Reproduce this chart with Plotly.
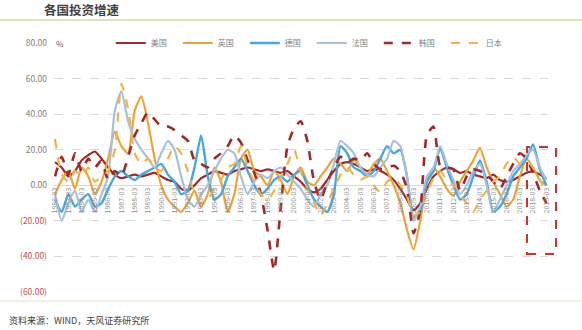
import pandas as pd
import plotly.graph_objects as go

# semiannual observation dates (1982-03 ... 2019-03)
dates = pd.date_range("1982-03-01", periods=75, freq="6MS")

series_names = ["美国", "英国", "德国", "法国", "韩国", "日本"]

us = [13, 10, 5, 8, 14, 17, 19, 15, 10, 6, 4, 5, 6, 5, 6, 7, 5, 3, 2, -2,
      -3, 0, 4, 6, 8, 7, 6, 8, 9, 10, 9, 8, 9, 8, 7, 8, 5, 2, -2, -4,
      -2, 3, 8, 12, 13, 12, 10, 8, 9, 8, 6, 3, -2, -8, -14, -10, -2, 5, 8, 10,
      9, 7, 8, 6, 5, 4, 6, 3, 2, 3, 5, 7, 8, 6, 4]
uk = [-5, 3, 8, -2, 10, 5, -5, 2, 15, 30, 22, 18, 42, 50, 35, 15, 0, -8, -12, -15,
      -10, -3, -12, -5, 10, 2, -15, -5, 15, 20, 8, 5, 0, 8, 3, -5, 5, 10, 2, 0,
      5, 10, 15, 12, 8, 14, 10, 6, 12, 15, 8, 0, -10, -25, -36, -20, 2, 10, 5, -2,
      -6, 2, 8, 14, 21, 10, 2, -5, -12, -8, 5, 15, 10, 3, 0]
de = [-8, -15, -5, -12, -8, -5, -12, -10, -2, 5, 8, 5, 3, 6, 8, 10, 12, 6, 2, -5,
      -3, 10, 28, 5, -8, -5, 5, 10, 15, 8, 0, -5, -2, 3, 5, 2, 6, 8, 0, -8,
      -12, -15, -5, 22, 18, 10, 8, 5, 8, 15, 22, 18, 20, 5, -18, -15, 2, 8, 21, 10,
      0, -8, -5, 5, 14, 2, -15, -12, -5, 5, 10, 15, 23, 9, 0]
fr = [-5, -20, -10, -3, -15, -8, -15, -5, 5, 42, 53, 36, 26, 20, 15, 10, 18, 25, 20, 5,
      -8, -12, -5, 0, 8, 15, 20, 18, 5, -5, 2, 6, 4, 8, 10, 6, 2, -2, -8, -12,
      -5, 0, 12, 25, 22, 18, 10, 6, 5, 10, 15, 25, 22, 5, -20, -12, 5, 10, 22, 12,
      3, -5, 0, 8, 12, 0, -15, -8, 0, 8, 12, 17, 20, 10, 3]
kr = [5, 16, 6, 18, 8, 15, 10, 14, 3, 8, 5, 16, 28, 35, 41, 37, 33, 33, 31, 28,
      25, 14, 12, 10, 15, 18, 22, 28, 24, 14, 7, -5, -25, -48, -12, 22, 32, 36, 25, 2,
      -8, 2, 10, 16, 13, 15, 14, 18, 12, 9, 10, 11, 8, -2, -27, -14, 28, 33, 11, 10,
      9, -3, 5, 9, 8, 6, 2, -2, 5, 12, 18, 15, 7, -3, -10]
jp = [26, 6, 2, 8, 5, 10, 2, 5, 8, 20, 57, 43, 18, 12, 15, 10, 8, 15, 22, 18,
      8, -5, -10, -8, -2, 3, 10, 12, 22, 10, 2, -5, -8, -3, 5, 12, 20, 8, -2, -10,
      -17, -10, -2, 6, 10, 6, 3, 5, 0, -4, 2, 4, 0, -6, -17, -15, -4, 4, 8, 3,
      0, -6, -10, -15, -8, -3, 2, 5, 12, 16, 12, 14, 10, 3, -3]

values = [us, uk, de, fr, kr, jp]
colors = ["#9e2a2b", "#eba43c", "#4aa6dc", "#a9c0dc", "#9e2a2b", "#f2b24a"]
dashes = ["solid", "solid", "solid", "solid", "dash", "dash"]
widths = [2.2, 2.2, 2.4, 2.2, 2.6, 2.2]

tick_years = list(range(1982, 2020))
tick_vals = [f"{y}-03-01" for y in tick_years]
tick_text = [f"{y}-03" for y in tick_years]

y_ticks = [80, 60, 40, 20, 0, -20, -40, -60]


def fmt(v):
    if v < 0:
        return f"<span style='color:#c0504d'>({abs(v):.2f})</span>"
    return f"{v:.2f}"


y_text = [fmt(v) for v in y_ticks]

FONT = "Noto Sans CJK SC, Noto Sans, sans-serif"

fig = go.Figure()
for i in range(len(values)):
    fig.add_trace(go.Scatter(
        x=dates, y=values[i], name=series_names[i], mode="lines",
        line=dict(color=colors[i], width=widths[i], dash=dashes[i],
                  shape="spline", smoothing=0.55),
    ))

fig.update_layout(
    width=582, height=330,
    margin=dict(l=54, r=34, t=43, b=38),
    paper_bgcolor="white", plot_bgcolor="white",
    font=dict(family=FONT, size=8, color="#7f7f7f"),
    showlegend=True,
    legend=dict(orientation="h", x=0.115, y=1.0, xanchor="left", yanchor="middle",
                font=dict(size=8, color="#7f7f7f"), entrywidth=22,
                entrywidthmode="pixels", itemwidth=30, bgcolor="rgba(0,0,0,0)",
                tracegroupgap=0),
    xaxis=dict(
        type="date",
        range=["1982-02-01", "2019-04-15"],
        anchor="free", position=60 / 140,
        tickmode="array", tickvals=tick_vals, ticktext=tick_text,
        tickangle=-90, tickfont=dict(size=7, color="#8c8c8c"),
        showgrid=False, showline=False, ticks="", zeroline=False,
    ),
    yaxis=dict(
        range=[-60, 80], domain=[0, 1],
        tickmode="array", tickvals=y_ticks, ticktext=y_text,
        tickfont=dict(size=8.5, color="#7f7f7f"),
        ticklabelstandoff=6,
        showgrid=True, gridcolor="#d9d9d9", griddash="dash", gridwidth=1,
        zeroline=True, zerolinecolor="#d9d9d9", zerolinewidth=1,
        showline=False, ticks="", ticklen=0,
    ),
    shapes=[
        dict(type="line", xref="paper", yref="paper", x0=-54 / 494, x1=528 / 494,
             y0=1 + 23 / 249, y1=1 + 23 / 249, line=dict(color="#cdbd8f", width=1.2)),
        dict(type="line", xref="paper", yref="paper", x0=-54 / 494, x1=528 / 494,
             y0=-9 / 249, y1=-9 / 249, line=dict(color="#e6dfc8", width=1)),
        dict(type="rect", xref="paper", yref="paper", x0=(527 - 54) / 494,
             x1=(556 - 54) / 494, y0=(292 - 254) / 249, y1=(292 - 147) / 249,
             line=dict(color="#c0392b", width=2, dash="dash")),
    ],
    annotations=[
        dict(text="<b>各国投资增速</b>", xref="paper", yref="paper",
             x=-12 / 494, y=1 + 33 / 249, xanchor="left", yanchor="middle",
             showarrow=False, font=dict(size=12.5, color="#404040", family=FONT)),
        dict(text="%", xref="paper", yref="paper", x=0 / 494, y=1.0,
             xanchor="left", yanchor="middle", showarrow=False,
             font=dict(size=8, color="#595959")),
        dict(text="资料来源：WIND，天风证券研究所", xref="paper", yref="paper",
             x=-47 / 494, y=-28 / 249, xanchor="left", yanchor="middle",
             showarrow=False, font=dict(size=9, color="#404040", family=FONT)),
    ],
)

fig.write_html("out.html")
